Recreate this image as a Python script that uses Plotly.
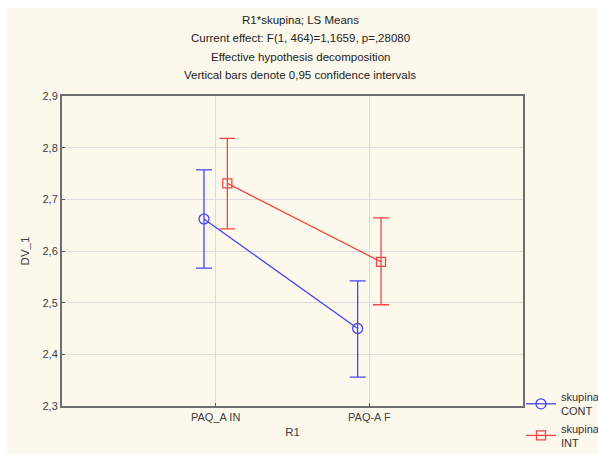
import plotly.graph_objects as go

categories = ["PAQ_A IN", "PAQ-A F"]
groups = ["CONT", "INT"]
means_cont = [2.662, 2.450]
upper_cont = [2.757, 2.542]
lower_cont = [2.567, 2.356]
means_int = [2.731, 2.579]
upper_int = [2.818, 2.664]
lower_int = [2.643, 2.496]
y_ticks = [2.3, 2.4, 2.5, 2.6, 2.7, 2.8, 2.9]
y_tick_labels = ["2,3", "2,4", "2,5", "2,6", "2,7", "2,8", "2,9"]

title_lines = [
    "R1*skupina; LS Means",
    "Current effect: F(1, 464)=1,1659, p=,28080",
    "Effective hypothesis decomposition",
    "Vertical bars denote 0,95 confidence intervals",
]

FONT = "Liberation Sans, Arial, sans-serif"
dodge = 0.076
xs = list(range(len(categories)))

series = [
    ("skupina<br>CONT", means_cont, upper_cont, lower_cont, "#4646f0", "circle-open", 10, -dodge),
    ("skupina<br>INT", means_int, upper_int, lower_int, "#f04646", "square-open", 9, dodge),
]

fig = go.Figure()
for name, m, up, lo, col, sym, sz, off in series:
    fig.add_trace(go.Scatter(
        x=[x + off for x in xs], y=m, name=name, mode="lines+markers",
        line=dict(color=col, width=1.3),
        marker=dict(symbol=sym, size=sz, color=col, line=dict(width=1.3, color=col)),
        error_y=dict(type="data", symmetric=False,
                     array=[u - v for u, v in zip(up, m)],
                     arrayminus=[v - l for v, l in zip(m, lo)],
                     color=col, thickness=1.3, width=8),
    ))

W, H = 598, 454
L, R, T, B = 62, 75, 96, 48
PW, PH = W - L - R, H - T - B

fig.update_layout(
    width=W, height=H,
    margin=dict(l=L, r=R, t=T, b=B, autoexpand=False),
    paper_bgcolor="white",
    plot_bgcolor="white",
    font=dict(family=FONT, size=11, color="#333333"),
    showlegend=True,
    legend=dict(x=(521 - L) / PW, y=(H - B - 383) / PH, xanchor="left", yanchor="top",
                bgcolor="rgba(0,0,0,0)", font=dict(family=FONT, size=11, color="#333333"),
                tracegroupgap=0, itemwidth=30),
    shapes=[dict(type="rect", xref="paper", yref="paper",
                 x0=(7 - L) / PW, x1=(W - L) / PW + 0.01,
                 y0=-(B + 5) / PH, y1=(H - 8 - B) / PH,
                 fillcolor="#fdf8ec", line=dict(width=0), layer="below")],
)

for i, line in enumerate(title_lines):
    fig.add_annotation(text=line, xref="paper", yref="paper",
                       x=(300 - L) / PW, y=(H - B - (20 + 18.5 * i)) / PH,
                       xanchor="center", yanchor="middle", showarrow=False,
                       font=dict(family=FONT, size=11.5, color="#222222"))

fig.update_xaxes(
    range=[-1, 2], tickvals=xs, ticktext=categories,
    showgrid=True, gridcolor="#dcdcdc", gridwidth=1,
    showline=True, linecolor="#6e6e6e", linewidth=2, mirror=True,
    ticks="inside", ticklen=3, tickcolor="#555555",
    tickfont=dict(family=FONT, size=11, color="#404040"),
    title=dict(text="R1", font=dict(family=FONT, size=11.5, color="#404040"), standoff=6),
    zeroline=False,
)
fig.update_yaxes(
    range=[2.3, 2.9], tickvals=y_ticks, ticktext=y_tick_labels,
    showgrid=True, gridcolor="#dcdcdc", gridwidth=1,
    showline=True, linecolor="#6e6e6e", linewidth=2, mirror=True,
    ticks="inside", ticklen=3, tickcolor="#555555",
    tickfont=dict(family=FONT, size=11, color="#404040"),
    title=dict(text="DV_1", font=dict(family=FONT, size=11.5, color="#404040"), standoff=10),
    zeroline=False,
)

fig.write_html("out.html", config={"displayModeBar": False},
               post_script="document.body.style.margin='0';document.body.style.overflow='hidden';")
